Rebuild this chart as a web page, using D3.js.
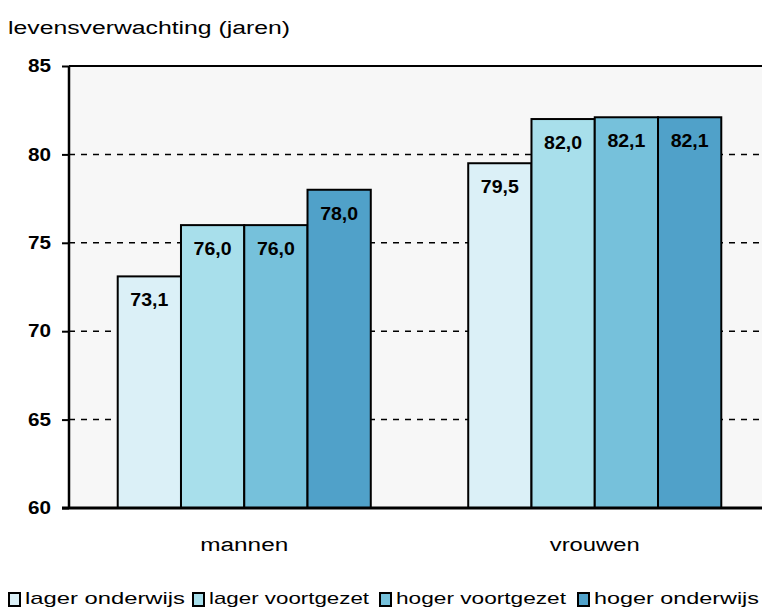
<!DOCTYPE html>
<html><head><meta charset="utf-8">
<script src="https://cdn.jsdelivr.net/npm/d3@7"></script>
<style>body{margin:0;background:#fff}svg{display:block}text{font-family:"Liberation Sans",Arial,sans-serif}</style>
</head><body><svg id="c" width="762" height="610"></svg>
<script>
const categories = ["mannen", "vrouwen"];
const series = ["lager onderwijs", "lager voortgezet", "hoger voortgezet", "hoger onderwijs"];
const mannen = [73.1, 76.0, 76.0, 78.0];
const vrouwen = [79.5, 82.0, 82.1, 82.1];
const yTicks = [60, 65, 70, 75, 80, 85];
const colors = ["#dbf0f7", "#a8dfeb", "#76c1db", "#50a1c9"];
const title = "levensverwachting (jaren)";

const values = [mannen, vrouwen];
const svg = d3.select("#c");
const pL = 69, pR = 770, pT = 66, pB = 508;

const x0 = d3.scaleBand().domain(categories).range([pL, pR]).paddingInner(0.278).paddingOuter(0.139);
const x1 = d3.scaleBand().domain(series).range([0, x0.bandwidth()]).padding(0);
const y = d3.scaleLinear().domain([60, 85]).range([pB, pT]);

svg.append("rect").attr("x", pL).attr("y", pT).attr("width", pR - pL).attr("height", pB - pT).attr("fill", "#f7f7f7");

// gridlines
svg.append("g").selectAll("line").data(yTicks.filter(t => t > 60 && t < 85)).join("line")
  .attr("x1", pL).attr("x2", pR).attr("y1", d => y(d)).attr("y2", d => y(d))
  .attr("stroke", "#000").attr("stroke-width", 1.5).attr("stroke-dasharray", "6,6");

// top border
svg.append("line").attr("x1", pL).attr("x2", pR).attr("y1", pT).attr("y2", pT).attr("stroke", "#000").attr("stroke-width", 2);

// bars
const g = svg.append("g").selectAll("g").data(categories).join("g").attr("transform", d => `translate(${x0(d)},0)`);
g.each(function(cat, ci) {
  const grp = d3.select(this);
  const data = series.map((s, i) => ({s, v: values[ci][i], i}));
  grp.selectAll("rect").data(data).join("rect")
    .attr("x", d => x1(d.s)).attr("width", x1.bandwidth())
    .attr("y", d => y(d.v)).attr("height", d => y(60) - y(d.v))
    .attr("fill", d => colors[d.i]).attr("stroke", "#000").attr("stroke-width", 2);
  grp.selectAll("text").data(data).join("text")
    .attr("x", d => x1(d.s) + x1.bandwidth() / 2).attr("y", d => y(d.v) + 30)
    .attr("text-anchor", "middle").attr("font-size", 18).attr("font-weight", "bold")
    .attr("textLength", 38).attr("lengthAdjust", "spacingAndGlyphs")
    .text(d => d3.format(".1f")(d.v).replace(".", ","));
});

// y axis
const yAxis = d3.axisLeft(y).tickValues(yTicks).tickSize(7).tickPadding(11);
const ya = svg.append("g").attr("transform", `translate(${pL},0)`).call(yAxis);
ya.select(".domain").remove();
ya.selectAll(".tick line").attr("stroke", "#000").attr("stroke-width", 2);
ya.selectAll(".tick text").attr("font-size", 18).attr("font-weight", "bold").attr("fill", "#000")
  .attr("font-family", "'Liberation Sans',Arial,sans-serif")
  .attr("textLength", 23).attr("lengthAdjust", "spacingAndGlyphs");
svg.append("line").attr("x1", pL).attr("x2", pL).attr("y1", pT).attr("y2", pB + 1).attr("stroke", "#000").attr("stroke-width", 2.5);
svg.append("line").attr("x1", pL - 7).attr("x2", pR).attr("y1", pB).attr("y2", pB).attr("stroke", "#000").attr("stroke-width", 3);

// category labels
svg.append("g").selectAll("text").data(categories).join("text")
  .attr("x", d => x0(d) + x0.bandwidth() / 2).attr("y", 551)
  .attr("text-anchor", "middle").attr("font-size", 18)
  .attr("textLength", d => d === "mannen" ? 88 : 90).attr("lengthAdjust", "spacingAndGlyphs")
  .text(d => d);

// title
svg.append("text").attr("x", 8).attr("y", 34).attr("font-size", 18)
  .attr("textLength", 282).attr("lengthAdjust", "spacingAndGlyphs").text(title);

// legend
const legX = [9, 193, 380, 578];
const legW = [160, 160, 170, 165];
const leg = svg.append("g").selectAll("g").data(series).join("g").attr("transform", (d, i) => `translate(${legX[i]},0)`);
leg.append("rect").attr("x", 0).attr("y", 593).attr("width", 11).attr("height", 13)
  .attr("fill", (d, i) => colors[i]).attr("stroke", "#000").attr("stroke-width", 2);
leg.append("text").attr("x", 16).attr("y", 604).attr("font-size", 17)
  .attr("textLength", (d, i) => legW[i]).attr("lengthAdjust", "spacingAndGlyphs").text(d => d);
</script></body></html>
